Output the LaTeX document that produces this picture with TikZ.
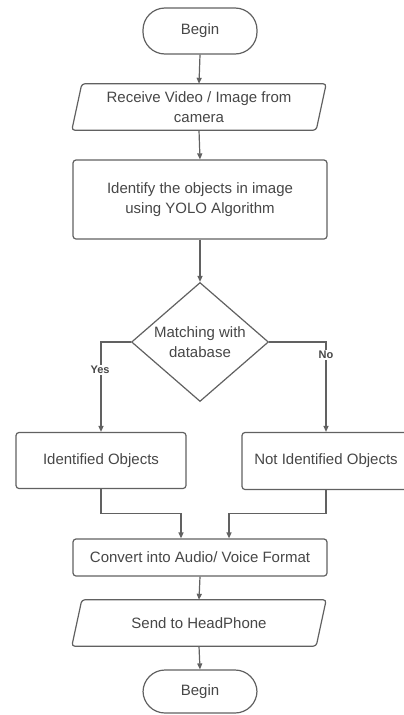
\documentclass[tikz,border=0pt]{standalone}
\usepackage{fontspec}
\setmainfont{Liberation Sans}
\usetikzlibrary{arrows.meta,shapes.geometric,calc}

\tikzset{
  line/.style={draw=black!62, line width=1.2pt},
  arr/.style={line, -{Triangle[length=6pt,width=5pt]}},
  txt/.style={text=black!72, font=\fontsize{15}{20}\selectfont, align=center, inner sep=0pt},
  terminal/.style={txt, line, fill=white, rounded corners=22pt, minimum width=114pt},
  procbox/.style={txt, line, fill=white, rounded corners=3pt},
  iobox/.style={txt, minimum width=254pt},
  decision/.style={txt, line, fill=white, diamond, aspect=1.15, minimum width=137pt, minimum height=119pt, inner sep=0pt},
  branchlabel/.style={text=black!72, font=\bfseries\fontsize{11}{13}\selectfont, fill=white, inner sep=1pt}
}

\begin{document}
\begin{tikzpicture}[x=1pt, y=-1pt]
  \useasboundingbox (0,0) rectangle (404,715);
  \fill[white] (0,0) rectangle (404,715);

  % start and end terminals
  \node[terminal, minimum height=46pt] (begin) at (200,31) {Begin};
  \node[terminal, minimum height=43pt] (finish) at (200,691.5) {Begin};

  % input parallelograms (text nodes with the outline drawn around them)
  \node[iobox, minimum height=46pt] (recv) at (199,107) {Receive Video / Image from\\camera};
  \draw[line, fill=white, rounded corners=3pt]
    ($(recv.north west)+(10,0)$) -- (recv.north east) -- ($(recv.south east)+(-10,0)$) -- (recv.south west) -- cycle;
  \node[txt] at (recv) {Receive Video / Image from\\camera};

  \node[iobox, minimum height=46pt] (send) at (199,623) {Send to HeadPhone};
  \draw[line, fill=white, rounded corners=3pt]
    ($(send.north west)+(10,0)$) -- (send.north east) -- ($(send.south east)+(-10,0)$) -- (send.south west) -- cycle;
  \node[txt] at (send) {Send to HeadPhone};

  % process boxes
  \node[procbox, minimum width=254pt, minimum height=79pt] (yolo) at (200,199.5)
    {Identify the objects in image\\using YOLO Algorithm};
  \node[decision] (match) at (200,342) {Matching with\\database};
  \node[procbox, minimum width=170pt, minimum height=56pt] (ident) at (101,460.5) {Identified Objects};
  \node[procbox, minimum width=168pt, minimum height=57pt] (notident) at (326,461) {Not Identified Objects};
  \node[procbox, minimum width=254pt, minimum height=37pt] (convert) at (200,557.5) {Convert into Audio/ Voice Format};

  % main flow
  \draw[arr] (begin.south) -- (recv.north);
  \draw[arr] (recv.south) -- (yolo.north);
  \draw[arr] (yolo.south) -- (match.north);

  % decision branches
  \draw[arr] (match.west) -| (ident.north);
  \draw[arr] (match.east) -| (notident.north);
  \node[branchlabel] (yes) at (100,370) {Yes};
  \node[branchlabel] (no) at (326,355) {No};

  % merge into conversion step
  \draw[arr] (ident.south) -- ++(0,24.5) -| ([xshift=-19pt]convert.north);
  \draw[arr] (notident.south) -- ++(0,23.5) -| ([xshift=29pt]convert.north);

  \draw[arr] (convert.south) -- (send.north);
  \draw[arr] (send.south) -- (finish.north);
\end{tikzpicture}
\end{document}
